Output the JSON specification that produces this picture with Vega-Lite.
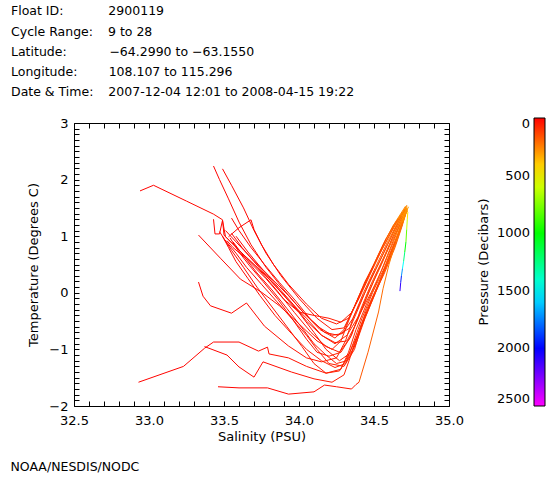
{
"$schema": "https://vega.github.io/schema/vega-lite/v6.json",
"background": "white",
"padding": {"left": 10, "top": 4, "right": 5, "bottom": 5},
"config": {"view": {"stroke": "black", "strokeWidth": 1}, "font": "DejaVu Sans"},
"title": {"text": "NOAA/NESDIS/NODC", "orient": "bottom", "anchor": "start", "frame": "bounds", "fontSize": 12.5, "fontWeight": "normal", "color": "black", "offset": 17},
"vconcat": [{
"title": {"text": ["Float ID:\u2003\u2003\u2003\u2002\u200A2900119", "Cycle Range:\u2003\u20099 to 28", "Latitude:\u2003\u2003\u2003 \u200A\u221264.2990 to \u221263.1550", "Longitude:\u2003\u2003\u2002108.107 to 115.296", "Date & Time:\u2003\u20092007-12-04 12:01 to 2008-04-15 19:22"], "anchor": "start", "frame": "group", "dx": -63, "lineHeight": 20.3, "fontSize": 12.5, "fontWeight": "normal", "color": "black", "offset": 18},
"width": 375, "height": 283,
"data": {"values": [
{"id":1,"s":32.94,"t":1.80,"p":5},{"id":1,"s":33.03,"t":1.90,"p":8},{"id":1,"s":33.25,"t":1.62,"p":15},{"id":1,"s":33.43,"t":1.39,"p":20},{"id":1,"s":33.49,"t":1.29,"p":23},{"id":1,"s":33.50,"t":1.02,"p":27},{"id":1,"s":33.62,"t":0.70,"p":33},{"id":1,"s":33.78,"t":0.30,"p":40},{"id":1,"s":33.92,"t":-0.10,"p":47},{"id":1,"s":34.05,"t":-0.45,"p":55},{"id":1,"s":34.15,"t":-0.75,"p":62},{"id":1,"s":34.24,"t":-0.90,"p":70},{"id":1,"s":34.32,"t":-0.75,"p":85},{"id":1,"s":34.40,"t":-0.40,"p":105},{"id":1,"s":34.48,"t":0.00,"p":130},{"id":1,"s":34.56,"t":0.45,"p":165},{"id":1,"s":34.63,"t":0.90,"p":220},{"id":1,"s":34.68,"t":1.25,"p":280},{"id":1,"s":34.71,"t":1.45,"p":360},
{"id":2,"s":32.93,"t":-1.58,"p":5},{"id":2,"s":33.23,"t":-1.30,"p":8},{"id":2,"s":33.37,"t":-0.98,"p":11},{"id":2,"s":33.43,"t":-0.87,"p":14},{"id":2,"s":33.60,"t":-0.87,"p":18},{"id":2,"s":33.73,"t":-1.03,"p":22},{"id":2,"s":33.79,"t":-0.96,"p":25},{"id":2,"s":33.80,"t":-1.08,"p":28},{"id":2,"s":33.93,"t":-1.15,"p":33},{"id":2,"s":34.05,"t":-1.30,"p":40},{"id":2,"s":34.18,"t":-1.42,"p":50},{"id":2,"s":34.28,"t":-1.35,"p":62},{"id":2,"s":34.33,"t":-1.05,"p":75},{"id":2,"s":34.38,"t":-0.65,"p":90},{"id":2,"s":34.45,"t":-0.20,"p":115},{"id":2,"s":34.52,"t":0.20,"p":140},{"id":2,"s":34.58,"t":0.60,"p":175},{"id":2,"s":34.64,"t":1.00,"p":230},{"id":2,"s":34.69,"t":1.30,"p":290},{"id":2,"s":34.72,"t":1.48,"p":370},
{"id":3,"s":33.37,"t":-0.95,"p":5},{"id":3,"s":33.52,"t":-1.10,"p":9},{"id":3,"s":33.60,"t":-1.31,"p":13},{"id":3,"s":33.70,"t":-1.49,"p":17},{"id":3,"s":33.76,"t":-1.22,"p":21},{"id":3,"s":33.95,"t":-1.40,"p":30},{"id":3,"s":34.10,"t":-1.52,"p":40},{"id":3,"s":34.22,"t":-1.58,"p":52},{"id":3,"s":34.30,"t":-1.45,"p":64},{"id":3,"s":34.34,"t":-1.15,"p":76},{"id":3,"s":34.40,"t":-0.70,"p":92},{"id":3,"s":34.47,"t":-0.25,"p":115},{"id":3,"s":34.54,"t":0.20,"p":140},{"id":3,"s":34.60,"t":0.65,"p":175},{"id":3,"s":34.66,"t":1.05,"p":230},{"id":3,"s":34.70,"t":1.35,"p":295},{"id":3,"s":34.72,"t":1.50,"p":370},
{"id":4,"s":33.33,"t":1.02,"p":5},{"id":4,"s":33.48,"t":0.60,"p":10},{"id":4,"s":33.61,"t":0.24,"p":16},{"id":4,"s":33.75,"t":0.01,"p":22},{"id":4,"s":33.87,"t":-0.23,"p":30},{"id":4,"s":34.00,"t":-0.55,"p":40},{"id":4,"s":34.12,"t":-0.85,"p":50},{"id":4,"s":34.22,"t":-1.00,"p":60},{"id":4,"s":34.28,"t":-0.85,"p":75},{"id":4,"s":34.33,"t":-0.50,"p":95},{"id":4,"s":34.40,"t":-0.05,"p":125},{"id":4,"s":34.48,"t":0.40,"p":155},{"id":4,"s":34.56,"t":0.85,"p":205},{"id":4,"s":34.63,"t":1.20,"p":265},{"id":4,"s":34.70,"t":1.45,"p":350},{"id":4,"s":34.72,"t":1.44,"p":420},
{"id":5,"s":33.33,"t":0.19,"p":5},{"id":5,"s":33.36,"t":-0.06,"p":8},{"id":5,"s":33.41,"t":-0.23,"p":11},{"id":5,"s":33.55,"t":-0.36,"p":15},{"id":5,"s":33.65,"t":-0.18,"p":19},{"id":5,"s":33.77,"t":-0.59,"p":25},{"id":5,"s":33.93,"t":-0.94,"p":33},{"id":5,"s":34.05,"t":-1.15,"p":42},{"id":5,"s":34.15,"t":-1.22,"p":52},{"id":5,"s":34.25,"t":-1.15,"p":62},{"id":5,"s":34.31,"t":-0.85,"p":75},{"id":5,"s":34.36,"t":-0.45,"p":95},{"id":5,"s":34.43,"t":0.00,"p":125},{"id":5,"s":34.51,"t":0.45,"p":160},{"id":5,"s":34.59,"t":0.90,"p":210},{"id":5,"s":34.66,"t":1.25,"p":270},{"id":5,"s":34.71,"t":1.47,"p":350},
{"id":6,"s":33.43,"t":2.24,"p":5},{"id":6,"s":33.47,"t":2.00,"p":8},{"id":6,"s":33.53,"t":1.66,"p":12},{"id":6,"s":33.60,"t":1.25,"p":17},{"id":6,"s":33.68,"t":0.85,"p":23},{"id":6,"s":33.78,"t":0.45,"p":30},{"id":6,"s":33.90,"t":0.05,"p":38},{"id":6,"s":34.03,"t":-0.35,"p":47},{"id":6,"s":34.14,"t":-0.65,"p":56},{"id":6,"s":34.24,"t":-0.80,"p":66},{"id":6,"s":34.30,"t":-0.65,"p":80},{"id":6,"s":34.36,"t":-0.30,"p":100},{"id":6,"s":34.43,"t":0.10,"p":125},{"id":6,"s":34.50,"t":0.50,"p":155},{"id":6,"s":34.58,"t":0.95,"p":205},{"id":6,"s":34.65,"t":1.28,"p":265},{"id":6,"s":34.71,"t":1.53,"p":345},
{"id":7,"s":33.49,"t":2.19,"p":5},{"id":7,"s":33.55,"t":1.90,"p":8},{"id":7,"s":33.63,"t":1.50,"p":12},{"id":7,"s":33.70,"t":1.10,"p":17},{"id":7,"s":33.78,"t":0.70,"p":23},{"id":7,"s":33.88,"t":0.30,"p":30},{"id":7,"s":34.00,"t":-0.10,"p":38},{"id":7,"s":34.12,"t":-0.45,"p":47},{"id":7,"s":34.22,"t":-0.65,"p":56},{"id":7,"s":34.30,"t":-0.62,"p":70},{"id":7,"s":34.37,"t":-0.25,"p":95},{"id":7,"s":34.44,"t":0.20,"p":125},{"id":7,"s":34.52,"t":0.60,"p":160},{"id":7,"s":34.60,"t":1.00,"p":210},{"id":7,"s":34.67,"t":1.33,"p":275},{"id":7,"s":34.72,"t":1.55,"p":350},
{"id":8,"s":33.43,"t":1.30,"p":5},{"id":8,"s":33.44,"t":1.04,"p":8},{"id":8,"s":33.47,"t":1.04,"p":10},{"id":8,"s":33.49,"t":1.28,"p":12},{"id":8,"s":33.51,"t":0.99,"p":15},{"id":8,"s":33.60,"t":0.75,"p":20},{"id":8,"s":33.72,"t":0.45,"p":27},{"id":8,"s":33.85,"t":0.05,"p":35},{"id":8,"s":33.97,"t":-0.35,"p":43},{"id":8,"s":34.08,"t":-0.70,"p":52},{"id":8,"s":34.18,"t":-0.95,"p":60},{"id":8,"s":34.27,"t":-1.05,"p":70},{"id":8,"s":34.34,"t":-0.80,"p":85},{"id":8,"s":34.40,"t":-0.40,"p":105},{"id":8,"s":34.47,"t":0.05,"p":130},{"id":8,"s":34.55,"t":0.50,"p":165},{"id":8,"s":34.62,"t":0.95,"p":220},{"id":8,"s":34.68,"t":1.30,"p":285},{"id":8,"s":34.72,"t":1.46,"p":360},
{"id":9,"s":33.53,"t":0.99,"p":5},{"id":9,"s":33.60,"t":1.15,"p":8},{"id":9,"s":33.68,"t":1.29,"p":11},{"id":9,"s":33.70,"t":1.12,"p":14},{"id":9,"s":33.75,"t":0.85,"p":19},{"id":9,"s":33.83,"t":0.50,"p":25},{"id":9,"s":33.93,"t":0.15,"p":32},{"id":9,"s":34.05,"t":-0.20,"p":40},{"id":9,"s":34.15,"t":-0.45,"p":48},{"id":9,"s":34.25,"t":-0.55,"p":57},{"id":9,"s":34.33,"t":-0.45,"p":75},{"id":9,"s":34.40,"t":-0.10,"p":100},{"id":9,"s":34.47,"t":0.30,"p":130},{"id":9,"s":34.55,"t":0.75,"p":170},{"id":9,"s":34.63,"t":1.15,"p":230},{"id":9,"s":34.70,"t":1.45,"p":320},
{"id":10,"s":33.55,"t":1.05,"p":5},{"id":10,"s":33.62,"t":0.80,"p":9},{"id":10,"s":33.70,"t":0.55,"p":14},{"id":10,"s":33.80,"t":0.25,"p":20},{"id":10,"s":33.90,"t":-0.05,"p":27},{"id":10,"s":34.00,"t":-0.35,"p":35},{"id":10,"s":34.10,"t":-0.70,"p":44},{"id":10,"s":34.18,"t":-1.00,"p":53},{"id":10,"s":34.27,"t":-1.20,"p":63},{"id":10,"s":34.35,"t":-1.05,"p":75},{"id":10,"s":34.41,"t":-0.60,"p":92},{"id":10,"s":34.48,"t":-0.15,"p":115},{"id":10,"s":34.55,"t":0.30,"p":145},{"id":10,"s":34.62,"t":0.75,"p":185},{"id":10,"s":34.68,"t":1.15,"p":245},{"id":10,"s":34.72,"t":1.45,"p":330},{"id":10,"s":34.725,"t":1.42,"p":450},{"id":10,"s":34.722,"t":1.30,"p":600},{"id":10,"s":34.718,"t":1.12,"p":800},{"id":10,"s":34.713,"t":0.90,"p":1000},{"id":10,"s":34.705,"t":0.72,"p":1250},{"id":10,"s":34.697,"t":0.55,"p":1500},{"id":10,"s":34.69,"t":0.43,"p":1700},{"id":10,"s":34.683,"t":0.30,"p":1950},{"id":10,"s":34.678,"t":0.18,"p":2100},{"id":10,"s":34.673,"t":0.03,"p":2300},
{"id":11,"s":33.50,"t":0.95,"p":5},{"id":11,"s":33.58,"t":0.70,"p":9},{"id":11,"s":33.65,"t":0.45,"p":14},{"id":11,"s":33.75,"t":0.15,"p":20},{"id":11,"s":33.85,"t":-0.15,"p":27},{"id":11,"s":33.95,"t":-0.45,"p":34},{"id":11,"s":34.05,"t":-0.75,"p":42},{"id":11,"s":34.12,"t":-1.00,"p":50},{"id":11,"s":34.20,"t":-1.25,"p":58},{"id":11,"s":34.30,"t":-1.30,"p":68},{"id":11,"s":34.37,"t":-1.00,"p":80},{"id":11,"s":34.42,"t":-0.55,"p":98},{"id":11,"s":34.49,"t":-0.10,"p":122},{"id":11,"s":34.57,"t":0.35,"p":155},{"id":11,"s":34.64,"t":0.80,"p":200},{"id":11,"s":34.69,"t":1.20,"p":260},{"id":11,"s":34.72,"t":1.48,"p":340},
{"id":12,"s":33.56,"t":0.90,"p":5},{"id":12,"s":33.64,"t":0.62,"p":9},{"id":12,"s":33.72,"t":0.35,"p":14},{"id":12,"s":33.82,"t":0.05,"p":20},{"id":12,"s":33.92,"t":-0.28,"p":27},{"id":12,"s":34.02,"t":-0.62,"p":35},{"id":12,"s":34.10,"t":-0.90,"p":43},{"id":12,"s":34.18,"t":-1.10,"p":51},{"id":12,"s":34.25,"t":-1.25,"p":60},{"id":12,"s":34.32,"t":-1.20,"p":70},{"id":12,"s":34.38,"t":-0.90,"p":82},{"id":12,"s":34.44,"t":-0.45,"p":100},{"id":12,"s":34.51,"t":0.00,"p":125},{"id":12,"s":34.58,"t":0.45,"p":158},{"id":12,"s":34.65,"t":0.90,"p":205},{"id":12,"s":34.70,"t":1.30,"p":270},{"id":12,"s":34.72,"t":1.47,"p":350},
{"id":13,"s":33.58,"t":1.00,"p":5},{"id":13,"s":33.66,"t":0.72,"p":9},{"id":13,"s":33.76,"t":0.40,"p":14},{"id":13,"s":33.86,"t":0.10,"p":20},{"id":13,"s":33.96,"t":-0.20,"p":27},{"id":13,"s":34.05,"t":-0.50,"p":35},{"id":13,"s":34.15,"t":-0.75,"p":44},{"id":13,"s":34.24,"t":-0.88,"p":54},{"id":13,"s":34.32,"t":-0.85,"p":66},{"id":13,"s":34.38,"t":-0.55,"p":82},{"id":13,"s":34.45,"t":-0.10,"p":108},{"id":13,"s":34.52,"t":0.35,"p":138},{"id":13,"s":34.60,"t":0.80,"p":180},{"id":13,"s":34.67,"t":1.20,"p":240},{"id":13,"s":34.71,"t":1.43,"p":320},
{"id":14,"s":33.52,"t":0.92,"p":5},{"id":14,"s":33.56,"t":0.80,"p":8},{"id":14,"s":33.65,"t":0.60,"p":13},{"id":14,"s":33.78,"t":0.25,"p":20},{"id":14,"s":33.90,"t":-0.12,"p":28},{"id":14,"s":34.00,"t":-0.34,"p":36},{"id":14,"s":34.10,"t":-0.40,"p":44},{"id":14,"s":34.20,"t":-0.45,"p":52},{"id":14,"s":34.28,"t":-0.52,"p":62},{"id":14,"s":34.35,"t":-0.35,"p":78},{"id":14,"s":34.42,"t":0.05,"p":105},{"id":14,"s":34.50,"t":0.50,"p":140},{"id":14,"s":34.58,"t":0.95,"p":190},{"id":14,"s":34.66,"t":1.30,"p":255},{"id":14,"s":34.71,"t":1.50,"p":335},
{"id":15,"s":33.46,"t":-1.66,"p":5},{"id":15,"s":33.60,"t":-1.68,"p":8},{"id":15,"s":33.79,"t":-1.68,"p":12},{"id":15,"s":33.93,"t":-1.79,"p":17},{"id":15,"s":34.10,"t":-1.75,"p":24},{"id":15,"s":34.17,"t":-1.63,"p":30},{"id":15,"s":34.25,"t":-1.66,"p":37},{"id":15,"s":34.35,"t":-1.70,"p":45},{"id":15,"s":34.38,"t":-1.62,"p":60},{"id":15,"s":34.40,"t":-1.58,"p":170},{"id":15,"s":34.46,"t":-1.05,"p":190},{"id":15,"s":34.53,"t":-0.34,"p":210},{"id":15,"s":34.56,"t":0.07,"p":225},{"id":15,"s":34.60,"t":0.50,"p":250},{"id":15,"s":34.65,"t":0.95,"p":285},{"id":15,"s":34.69,"t":1.30,"p":330},{"id":15,"s":34.72,"t":1.48,"p":400},
{"id":16,"s":33.47,"t":1.08,"p":5},{"id":16,"s":33.55,"t":0.75,"p":9},{"id":16,"s":33.63,"t":0.45,"p":14},{"id":16,"s":33.72,"t":0.10,"p":20},{"id":16,"s":33.82,"t":-0.25,"p":27},{"id":16,"s":33.92,"t":-0.60,"p":34},{"id":16,"s":34.02,"t":-0.95,"p":42},{"id":16,"s":34.10,"t":-1.25,"p":50},{"id":16,"s":34.18,"t":-1.42,"p":58},{"id":16,"s":34.27,"t":-1.38,"p":68},{"id":16,"s":34.33,"t":-1.10,"p":80},{"id":16,"s":34.39,"t":-0.75,"p":95},{"id":16,"s":34.45,"t":-0.30,"p":118},{"id":16,"s":34.53,"t":0.15,"p":145},{"id":16,"s":34.61,"t":0.65,"p":185},{"id":16,"s":34.67,"t":1.10,"p":240},{"id":16,"s":34.71,"t":1.40,"p":310},{"id":16,"s":34.73,"t":1.52,"p":380},
{"id":17,"s":33.55,"t":1.32,"p":5},{"id":17,"s":33.60,"t":1.10,"p":9},{"id":17,"s":33.68,"t":0.80,"p":14},{"id":17,"s":33.77,"t":0.50,"p":20},{"id":17,"s":33.87,"t":0.18,"p":27},{"id":17,"s":33.98,"t":-0.15,"p":34},{"id":17,"s":34.08,"t":-0.48,"p":42},{"id":17,"s":34.17,"t":-0.70,"p":50},{"id":17,"s":34.26,"t":-0.75,"p":60},{"id":17,"s":34.34,"t":-0.62,"p":75},{"id":17,"s":34.40,"t":-0.25,"p":100},{"id":17,"s":34.47,"t":0.20,"p":128},{"id":17,"s":34.55,"t":0.62,"p":165},{"id":17,"s":34.62,"t":1.02,"p":215},{"id":17,"s":34.68,"t":1.35,"p":280},{"id":17,"s":34.72,"t":1.53,"p":360},
{"id":18,"s":33.49,"t":1.00,"p":5},{"id":18,"s":33.53,"t":0.80,"p":9},{"id":18,"s":33.58,"t":0.55,"p":14},{"id":18,"s":33.66,"t":0.25,"p":20},{"id":18,"s":33.74,"t":-0.05,"p":27},{"id":18,"s":33.84,"t":-0.40,"p":34},{"id":18,"s":33.95,"t":-0.72,"p":42},{"id":18,"s":34.05,"t":-1.00,"p":50},{"id":18,"s":34.15,"t":-1.20,"p":58},{"id":18,"s":34.24,"t":-1.32,"p":66},{"id":18,"s":34.31,"t":-1.25,"p":76},{"id":18,"s":34.36,"t":-0.90,"p":90},{"id":18,"s":34.42,"t":-0.45,"p":110},{"id":18,"s":34.49,"t":0.00,"p":135},{"id":18,"s":34.57,"t":0.45,"p":168},{"id":18,"s":34.64,"t":0.90,"p":215},{"id":18,"s":34.69,"t":1.25,"p":275},{"id":18,"s":34.72,"t":1.46,"p":350},
{"id":19,"s":33.51,"t":1.10,"p":5},{"id":19,"s":33.58,"t":0.90,"p":9},{"id":19,"s":33.68,"t":0.62,"p":14},{"id":19,"s":33.80,"t":0.30,"p":20},{"id":19,"s":33.93,"t":-0.05,"p":27},{"id":19,"s":34.04,"t":-0.38,"p":34},{"id":19,"s":34.14,"t":-0.62,"p":42},{"id":19,"s":34.22,"t":-0.75,"p":50},{"id":19,"s":34.29,"t":-0.72,"p":60},{"id":19,"s":34.36,"t":-0.45,"p":78},{"id":19,"s":34.43,"t":-0.05,"p":102},{"id":19,"s":34.51,"t":0.40,"p":132},{"id":19,"s":34.59,"t":0.85,"p":175},{"id":19,"s":34.66,"t":1.22,"p":235},{"id":19,"s":34.71,"t":1.48,"p":315},
{"id":20,"s":33.54,"t":0.97,"p":5},{"id":20,"s":33.60,"t":0.72,"p":9},{"id":20,"s":33.67,"t":0.48,"p":14},{"id":20,"s":33.76,"t":0.20,"p":20},{"id":20,"s":33.86,"t":-0.12,"p":27},{"id":20,"s":33.96,"t":-0.48,"p":34},{"id":20,"s":34.05,"t":-0.82,"p":42},{"id":20,"s":34.12,"t":-1.05,"p":50},{"id":20,"s":34.20,"t":-1.12,"p":58},{"id":20,"s":34.28,"t":-1.05,"p":68},{"id":20,"s":34.35,"t":-0.75,"p":82},{"id":20,"s":34.41,"t":-0.30,"p":105},{"id":20,"s":34.48,"t":0.15,"p":132},{"id":20,"s":34.56,"t":0.60,"p":168},{"id":20,"s":34.63,"t":1.02,"p":220},{"id":20,"s":34.69,"t":1.35,"p":285},{"id":20,"s":34.72,"t":1.50,"p":360}
]},
"layer": [
{
"transform": [
{"window": [{"op": "lead", "field": "s", "as": "s2"}, {"op": "lead", "field": "t", "as": "t2"}], "groupby": ["id"], "sort": [{"field": "p", "order": "ascending"}]},
{"filter": "datum.s2 != null"}
],
"mark": {"type": "rule", "strokeWidth": 1},
"encoding": {
"x": {"field": "s", "type": "quantitative", "scale": {"domain": [32.5, 35], "nice": false, "zero": false},
 "axis": {"orient": "bottom", "title": "Salinity (PSU)", "values": [32.5,32.6,32.7,32.8,32.9,33.0,33.1,33.2,33.3,33.4,33.5,33.6,33.7,33.8,33.9,34.0,34.1,34.2,34.3,34.4,34.5,34.6,34.7,34.8,34.9,35.0],
  "labelExpr": "abs(datum.value*2 - round(datum.value*2)) < 0.001 ? format(datum.value, '.1f') : ''",
  "domain": false, "grid": false, "tickSize": -5, "tickColor": "black", "labelPadding": 13, "labelFlush": false, "labelOverlap": false,
  "labelFontSize": 13, "labelColor": "black", "titleFontSize": 13, "titleFontWeight": "normal", "titleColor": "black", "titlePadding": 3}},
"y": {"field": "t", "type": "quantitative", "scale": {"domain": [-2, 3], "nice": false, "zero": false},
 "axis": {"orient": "left", "title": "Temperature (Degrees C)", "values": [-2,-1.9,-1.8,-1.7,-1.6,-1.5,-1.4,-1.3,-1.2,-1.1,-1,-0.9,-0.8,-0.7,-0.6,-0.5,-0.4,-0.3,-0.2,-0.1,0,0.1,0.2,0.3,0.4,0.5,0.6,0.7,0.8,0.9,1,1.1,1.2,1.3,1.4,1.5,1.6,1.7,1.8,1.9,2,2.1,2.2,2.3,2.4,2.5,2.6,2.7,2.8,2.9,3],
  "labelExpr": "abs(datum.value - round(datum.value)) < 0.001 ? format(datum.value, 'd') : ''",
  "domain": false, "grid": false, "tickSize": -5, "tickColor": "black", "labelPadding": 11, "labelOverlap": false, "labelFlush": false,
  "labelFontSize": 13, "labelColor": "black", "titleFontSize": 13, "titleFontWeight": "normal", "titleColor": "black", "titlePadding": 8}},
"x2": {"field": "s2"},
"y2": {"field": "t2"},
"color": {"field": "p", "type": "quantitative",
 "scale": {"type": "linear", "domain": [2500, 2000, 1500, 1000, 500, 0], "range": ["#ff00ff", "#0000ff", "#00ffff", "#00ff00", "#ffff00", "#ff0000"], "interpolate": "rgb"},
 "legend": {"orient": "none", "legendX": 404, "legendY": -5, "direction": "vertical", "gradientLength": 288, "gradientThickness": 11,
  "values": [0, 500, 1000, 1500, 2000, 2500], "format": "d", "title": "Pressure (Decibars)", "titleOrient": "left", "titleAnchor": "middle", "titlePadding": 42,
  "labelAlign": "right", "labelOffset": -15, "labelBaseline": "middle", "labelFontSize": 13, "labelColor": "black", "labelOverlap": false,
  "titleFontSize": 13, "titleFontWeight": "normal", "titleColor": "black", "gradientStrokeColor": "black", "gradientStrokeWidth": 1, "padding": 0,
  "encode": {"labels": {"update": {"align": {"value": "right"}}}}}}
}
},
{
"transform": [{"filter": "datum.p < 0"}],
"mark": {"type": "point", "opacity": 0},
"encoding": {
"x": {"field": "s", "type": "quantitative", "axis": {"orient": "top", "title": null, "labels": false, "domain": false, "grid": false, "tickSize": -5, "tickColor": "black",
  "values": [32.5,32.6,32.7,32.8,32.9,33.0,33.1,33.2,33.3,33.4,33.5,33.6,33.7,33.8,33.9,34.0,34.1,34.2,34.3,34.4,34.5,34.6,34.7,34.8,34.9,35.0]}},
"y": {"field": "t", "type": "quantitative", "axis": {"orient": "right", "title": null, "labels": false, "domain": false, "grid": false, "tickSize": -5, "tickColor": "black",
  "values": [-2,-1.9,-1.8,-1.7,-1.6,-1.5,-1.4,-1.3,-1.2,-1.1,-1,-0.9,-0.8,-0.7,-0.6,-0.5,-0.4,-0.3,-0.2,-0.1,0,0.1,0.2,0.3,0.4,0.5,0.6,0.7,0.8,0.9,1,1.1,1.2,1.3,1.4,1.5,1.6,1.7,1.8,1.9,2,2.1,2.2,2.3,2.4,2.5,2.6,2.7,2.8,2.9,3]}}
}
}
],
"resolve": {"axis": {"x": "independent", "y": "independent"}}
}]
}
